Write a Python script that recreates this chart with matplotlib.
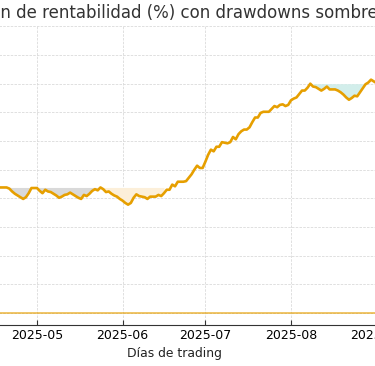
import numpy as np
import pandas as pd
import matplotlib
matplotlib.use("Agg")
import matplotlib.pyplot as plt
import matplotlib.dates as mdates

# Daily cumulative return (%), starting 2025-04-17
start_date = "2025-04-17"
returns = [
    21.9, 21.9, 21.9, 21.9, 21.7, 21.2, 20.8, 20.5, 20.2, 19.9,
    20.2, 20.9, 21.8, 21.8, 21.8, 21.3, 20.9, 21.5, 21.2, 21.1,
    20.8, 20.5, 20.1, 20.3, 20.6, 20.7, 21.0, 20.7, 20.4, 20.1,
    19.9, 20.6, 20.4, 20.8, 21.3, 21.6, 21.4, 21.9, 21.6, 21.1,
    21.2, 20.8, 20.5, 20.3, 19.9, 19.6, 19.2, 18.9, 19.2, 20.1,
    20.7, 20.4, 20.3, 20.2, 19.9, 20.3, 20.3, 20.3, 20.6, 20.4,
    20.9, 21.5, 21.5, 22.4, 22.1, 22.9, 22.9, 22.9, 23.0, 23.6,
    24.2, 25.0, 25.7, 25.3, 25.3, 26.4, 27.6, 28.5, 28.2, 29.0,
    29.0, 29.8, 29.7, 29.6, 29.8, 30.7, 30.3, 31.2, 31.7, 32.0,
    32.0, 32.4, 33.3, 34.1, 34.1, 34.9, 35.1, 35.1, 35.1, 35.6,
    36.1, 35.9, 36.3, 36.4, 36.1, 36.3, 37.1, 37.4, 37.6, 38.2,
    38.8, 38.8, 39.3, 40.0, 39.5, 39.4, 39.1, 38.8, 39.1, 39.5,
    39.0, 39.0, 39.0, 38.8, 38.5, 38.1, 37.6, 37.2, 37.5, 37.9,
    37.8, 38.5, 39.2, 39.9, 40.2, 40.7, 40.4, 40.1, 39.9,
]
dates = pd.date_range(start_date, periods=len(returns), freq="D")
series = pd.Series(returns, index=dates)

# Major drawdown periods and their shading colours
dd_starts = ["2025-04-20", "2025-05-24", "2025-08-09"]
dd_ends = ["2025-05-24", "2025-06-16", "2025-08-30"]
dd_colors = ["#d9d9d9", "#fcefd9", "#d2eeeb"]

line_color = "#E69F00"

fig = plt.figure(figsize=(3.75, 3.66), dpi=100)
ax = fig.add_axes([-0.1867, 0.112, 1.3013, 0.816])

running_max = series.cummax()
for s, e, c in zip(dd_starts, dd_ends, dd_colors):
    seg = series[s:e]
    peak = running_max[s:e]
    ax.fill_between(seg.index, seg.values, peak.values, color=c, lw=0, zorder=1)

ax.plot(series.index, series.values, color=line_color, lw=1.9, zorder=3)
ax.axhline(0, color=line_color, lw=1.2, alpha=0.7, zorder=2)

ax.set_ylim(-2.09, 50)
ax.set_yticks(np.arange(0, 51, 5))
may1 = mdates.date2num(pd.Timestamp("2025-05-01"))
ax.set_xlim(may1 - 38.75, may1 + 138.0)
ax.xaxis.set_major_locator(mdates.MonthLocator())
ax.xaxis.set_major_formatter(mdates.DateFormatter("%Y-%m"))

ax.grid(True, color="#dadada", linestyle="--", linewidth=0.6, dashes=(3, 1.5))
ax.set_axisbelow(True)
for side in ["top", "right", "left"]:
    ax.spines[side].set_visible(False)
ax.spines["bottom"].set_color("#333333")
ax.tick_params(axis="x", labelsize=9, length=3.5, pad=2.8, direction="in", color="#333333")
ax.tick_params(axis="y", labelsize=9)

ax.set_title("Evolución de rentabilidad (%) con drawdowns sombreados", fontsize=12, color="#333333")
ax.set_xlabel("Días de trading", fontsize=8.9, color="#222222")

fig.savefig("out.png", dpi=100)
